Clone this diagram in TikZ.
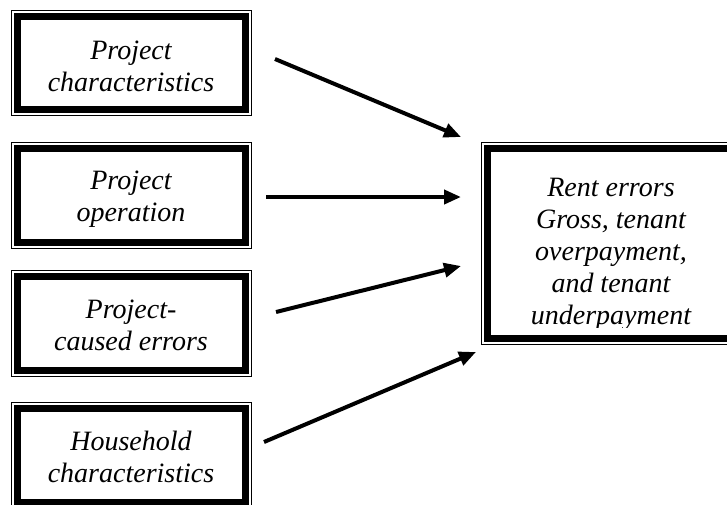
\documentclass[tikz,border=0pt]{standalone}
\usepackage{fontspec}
\setmainfont{Liberation Serif}
\usetikzlibrary{arrows.meta}
\begin{document}
\begin{tikzpicture}[x=1pt,y=-1pt,
  frame/.style={draw, line width=1pt, inner sep=0pt, anchor=north west},
  heavy/.style={line width=7pt},
  lbl/.style={font=\itshape\fontsize{28}{32}\selectfont, align=center, inner sep=0pt, anchor=north},
  arr/.style={line width=4pt, -{Triangle[length=17pt,width=14pt]}}]
\useasboundingbox (0,0) rectangle (727,504);
% left boxes
\node[frame, minimum width=240pt, minimum height=105pt] (b1) at (11,10) {};
\node[frame, minimum width=240pt, minimum height=106pt] (b2) at (11,141.5) {};
\node[frame, minimum width=240pt, minimum height=106pt] (b3) at (11,270) {};
\node[frame, minimum width=240pt, minimum height=106pt] (b4) at (11,401.5) {};
% right box
\node[frame, minimum width=260pt, minimum height=202pt] (R) at (481,141.5) {};
\foreach \n in {b1,b2,b3,b4,R}
  \draw[heavy] ([shift={(6.5,6.5)}]\n.north west) rectangle ([shift={(-6.5,-6.5)}]\n.south east);
% texts
\node[lbl] (t1) at (131,41) {Project\\characteristics};
\node[lbl] (t2) at (131,171) {Project\\operation};
\node[lbl] (t3) at (131,300) {Project-\\caused errors};
\node[lbl] (t4) at (131,431) {Household\\characteristics};
\begin{scope}
  \clip ([shift={(10,10)}]R.north west) rectangle ([shift={(-10,-17)}]R.south east);
  \node[lbl] (tR) at (611,177.5) {Rent errors\\Gross, tenant\\overpayment,\\and tenant\\underpayment};
\end{scope}
% arrows
\coordinate (a1s) at (275,59);  \coordinate (a1e) at (461,137);
\coordinate (a2s) at (266,197); \coordinate (a2e) at (461,197);
\coordinate (a3s) at (276,312); \coordinate (a3e) at (461,266);
\coordinate (a4s) at (264,442); \coordinate (a4e) at (476,352);
\draw[arr] (a1s) -- (a1e);
\draw[arr] (a2s) -- (a2e);
\draw[arr] (a3s) -- (a3e);
\draw[arr] (a4s) -- (a4e);
\end{tikzpicture}
\end{document}
